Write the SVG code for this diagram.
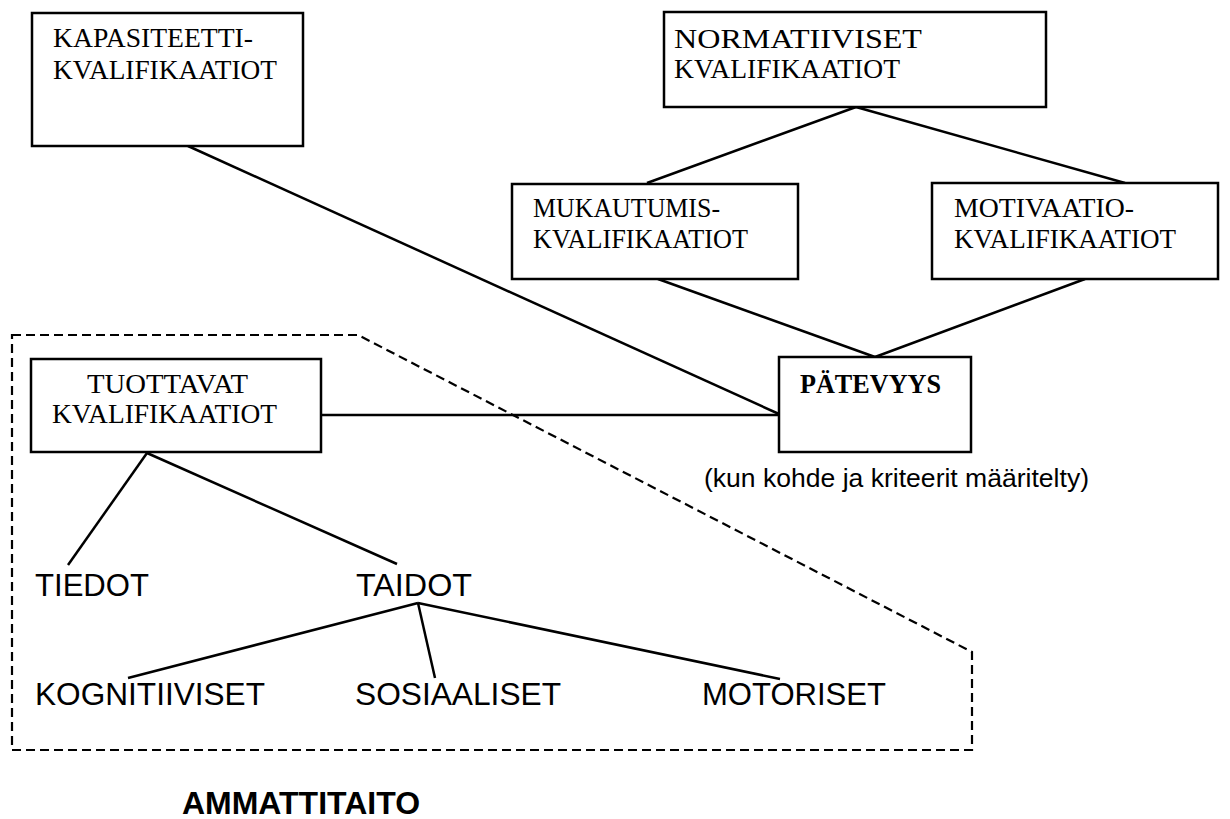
<svg xmlns="http://www.w3.org/2000/svg" width="1230" height="819" viewBox="0 0 1230 819">
<style>
.box{fill:#fff;stroke:#000;stroke-width:2.5}
.ser{font-family:"Liberation Serif","Times New Roman",serif;font-size:27px;fill:#000}
.san{font-family:"Liberation Sans",Arial,sans-serif;font-size:32px;fill:#000}
.ln{stroke:#000;stroke-width:2.5;fill:none}
.dash{stroke:#000;stroke-width:2.2;fill:none;stroke-dasharray:9 5}
</style>
<rect width="1230" height="819" fill="#fff"/>
<g id="group-ammattitaito">
<path class="dash" d="M12,335 L358,335 L972,652 L972,750 L12,750 Z"/>
</g>
<g id="connectors">
<line class="ln" x1="188" y1="146" x2="779" y2="414"/>
<line class="ln" x1="321" y1="415" x2="779" y2="415"/>
<line class="ln" x1="856" y1="107" x2="647" y2="183"/>
<line class="ln" x1="856" y1="107" x2="1125" y2="183"/>
<line class="ln" x1="658" y1="279" x2="875" y2="357"/>
<line class="ln" x1="1085" y1="279" x2="875" y2="357"/>
<line class="ln" x1="147" y1="453" x2="68" y2="565"/>
<line class="ln" x1="147" y1="453" x2="397" y2="564"/>
<line class="ln" x1="418" y1="603" x2="128" y2="678"/>
<line class="ln" x1="418" y1="603" x2="435" y2="678"/>
<line class="ln" x1="418" y1="603" x2="780" y2="679"/>
</g>
<g id="node-kapasiteetti">
<rect class="box" x="32" y="13" width="271" height="133"/>
<text class="ser" x="53" y="47" textLength="200" lengthAdjust="spacingAndGlyphs">KAPASITEETTI-</text>
<text class="ser" x="53" y="79" textLength="224" lengthAdjust="spacingAndGlyphs">KVALIFIKAATIOT</text>
</g>
<g id="node-normatiiviset">
<rect class="box" x="664" y="12" width="382" height="95"/>
<text class="ser" x="674" y="48" textLength="248" lengthAdjust="spacingAndGlyphs">NORMATIIVISET</text>
<text class="ser" x="674" y="78" textLength="226" lengthAdjust="spacingAndGlyphs">KVALIFIKAATIOT</text>
</g>
<g id="node-mukautumis">
<rect class="box" x="512" y="184" width="286" height="95"/>
<text class="ser" x="533" y="217" textLength="187" lengthAdjust="spacingAndGlyphs">MUKAUTUMIS-</text>
<text class="ser" x="533" y="248" textLength="215" lengthAdjust="spacingAndGlyphs">KVALIFIKAATIOT</text>
</g>
<g id="node-motivaatio">
<rect class="box" x="932" y="183" width="286" height="96"/>
<text class="ser" x="954" y="217" textLength="180" lengthAdjust="spacingAndGlyphs">MOTIVAATIO-</text>
<text class="ser" x="954" y="248" textLength="222" lengthAdjust="spacingAndGlyphs">KVALIFIKAATIOT</text>
</g>
<g id="node-patevyys">
<rect class="box" x="779" y="357" width="192" height="95"/>
<text class="ser" x="800" y="393" font-weight="bold" textLength="141" lengthAdjust="spacingAndGlyphs">PÄTEVYYS</text>
<text x="704" y="487" font-family="Liberation Sans, Arial, sans-serif" font-size="26" textLength="385" lengthAdjust="spacingAndGlyphs">(kun kohde ja kriteerit määritelty)</text>
</g>
<g id="node-tuottavat">
<rect class="box" x="31" y="359" width="290" height="93"/>
<text class="ser" x="87" y="393" textLength="161" lengthAdjust="spacingAndGlyphs">TUOTTAVAT</text>
<text class="ser" x="52" y="423" textLength="225" lengthAdjust="spacingAndGlyphs">KVALIFIKAATIOT</text>
</g>
<g id="node-tiedot"><text class="san" x="35" y="596" textLength="114" lengthAdjust="spacingAndGlyphs">TIEDOT</text></g>
<g id="node-taidot"><text class="san" x="356" y="596" textLength="116" lengthAdjust="spacingAndGlyphs">TAIDOT</text></g>
<g id="node-kognitiiviset"><text class="san" x="35" y="705" textLength="230" lengthAdjust="spacingAndGlyphs">KOGNITIIVISET</text></g>
<g id="node-sosiaaliset"><text class="san" x="355" y="705" textLength="206" lengthAdjust="spacingAndGlyphs">SOSIAALISET</text></g>
<g id="node-motoriset"><text class="san" x="702" y="705" textLength="184" lengthAdjust="spacingAndGlyphs">MOTORISET</text></g>
<g id="label-ammattitaito">
<text x="182" y="814" font-family="Liberation Sans, Arial, sans-serif" font-size="32" font-weight="bold" textLength="238" lengthAdjust="spacingAndGlyphs">AMMATTITAITO</text>
</g>
</svg>
